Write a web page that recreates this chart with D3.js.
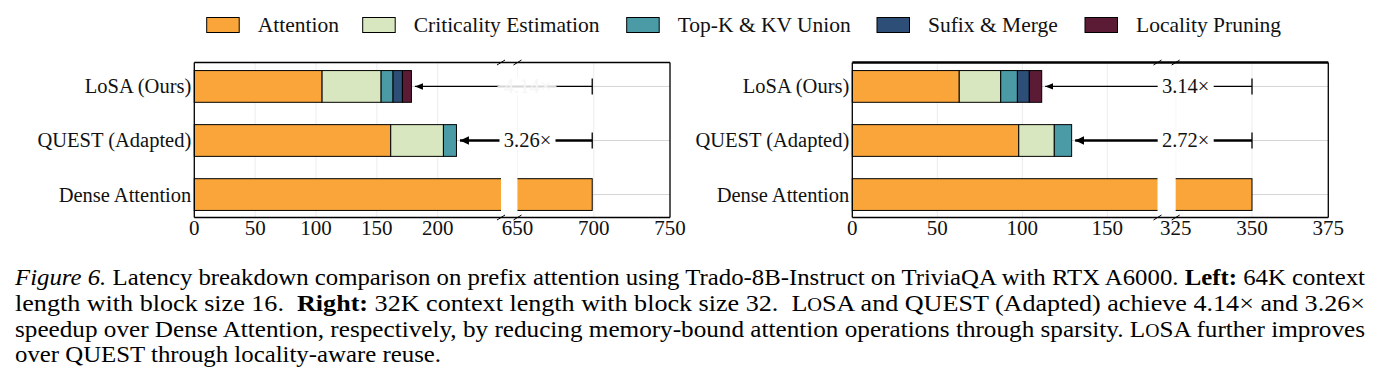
<!DOCTYPE html>
<html><head><meta charset="utf-8">
<script src="https://cdn.jsdelivr.net/npm/d3@7"></script>
<style>
html,body{margin:0;padding:0;background:#fff;}
svg{display:block;font-family:"Liberation Serif","Times New Roman",serif;}
</style></head>
<body>
<svg id="chart" width="1381" height="382"></svg>
<script>
// ---------------- data ----------------
const categories = ["LoSA (Ours)", "QUEST (Adapted)", "Dense Attention"];
const components = ["Attention", "Criticality Estimation", "Top-K & KV Union", "Sufix & Merge", "Locality Pruning"];
const colors = ["#f9a53a", "#d8e7c0", "#4b9ba7", "#2d4e77", "#5c1b35"];

// Left: 64K context, block size 16 (latency per component)
const leftLoSA  = [105.0, 48.5, 9.8, 7.7, 7.4];
const leftQUEST = [161.4, 43.3, 10.7, 0, 0];
const leftDense = [699, 0, 0, 0, 0];
// Right: 32K context, block size 32
const rightLoSA  = [62.9, 24.4, 9.8, 7.0, 7.3];
const rightQUEST = [97.9, 20.9, 10.2, 0, 0];
const rightDense = [350, 0, 0, 0, 0];

const leftTicksA = [0, 50, 100, 150, 200];
const leftTicksB = [650, 700, 750];
const rightTicksA = [0, 50, 100, 150];
const rightTicksB = [325, 350, 375];

const leftSpeedups = ["4.14×", "3.26×"];
const rightSpeedups = ["3.14×", "2.72×"];

// ---------------- drawing ----------------
const svg = d3.select("#chart");
const plotTop = 62.5, plotBottom = 217.5;

const y = d3.scaleBand().domain(categories).range([63, 218]).paddingInner(0.413).paddingOuter(0.14);

const panels = [
  {id: "L", rows: [leftLoSA, leftQUEST, leftDense], ticksA: leftTicksA, ticksB: leftTicksB,
   domA: [0, 252], rangeA: [194.3, 501], domB: [650, 750], rangeB: [517.5, 670],
   speedups: leftSpeedups, fadedFirst: true, thickTop: false},
  {id: "R", rows: [rightLoSA, rightQUEST, rightDense], ticksA: rightTicksA, ticksB: rightTicksB,
   domA: [0, 179.5], rangeA: [852.3, 1157.5], domB: [325, 375], rangeB: [1175.7, 1328.3],
   speedups: rightSpeedups, fadedFirst: false, thickTop: true}
];

const defs = svg.append("defs");
function marker(id, len, wid) {
  defs.append("marker").attr("id", id).attr("markerUnits", "userSpaceOnUse")
    .attr("viewBox", `0 0 ${len} ${wid}`).attr("refX", len).attr("refY", wid / 2)
    .attr("markerWidth", len).attr("markerHeight", wid).attr("orient", "auto")
    .append("path").attr("d", `M0,0 L${len},${wid / 2} L0,${wid} Z`).attr("fill", "#000");
}
marker("headThin", 8, 6.5);
marker("headThick", 9, 8.5);

panels.forEach(p => {
  const xA = d3.scaleLinear().domain(p.domA).range(p.rangeA);
  const xB = d3.scaleLinear().domain(p.domB).range(p.rangeB);
  const g = svg.append("g");

  defs.append("clipPath").attr("id", "clipA" + p.id).append("rect")
    .attr("x", p.rangeA[0] - 3).attr("y", 0).attr("width", p.rangeA[1] - p.rangeA[0] + 3).attr("height", 382);
  defs.append("clipPath").attr("id", "clipB" + p.id).append("rect")
    .attr("x", p.rangeB[0]).attr("y", 0).attr("width", p.rangeB[1] - p.rangeB[0] + 3).attr("height", 382);

  const segs = [
    {x: xA, ticks: p.ticksA, clip: "clipA" + p.id},
    {x: xB, ticks: p.ticksB, clip: "clipB" + p.id}
  ];

  // gridlines
  segs.forEach(s => {
    const gg = g.append("g").attr("clip-path", `url(#${s.clip})`);
    gg.selectAll("line.v").data(s.ticks).join("line")
      .attr("x1", d => s.x(d)).attr("x2", d => s.x(d)).attr("y1", plotTop).attr("y2", plotBottom)
      .attr("stroke", "#ececec").attr("stroke-width", 1);
    gg.selectAll("line.h").data(categories).join("line")
      .attr("x1", s.x.range()[0]).attr("x2", s.x.range()[1])
      .attr("y1", d => y(d) + y.bandwidth() / 2).attr("y2", d => y(d) + y.bandwidth() / 2)
      .attr("stroke", "#d4d4d4").attr("stroke-width", 1);
  });

  // bars
  segs.forEach(s => {
    const gb = g.append("g").attr("clip-path", `url(#${s.clip})`);
    p.rows.forEach((vals, ri) => {
      let acc = 0;
      vals.forEach((v, ci) => {
        if (v <= 0) return;
        const x1 = s.x(acc), x2 = s.x(acc + v);
        acc += v;
        const lo = Math.max(x1, s.x.range()[0] - 20), hi = Math.min(x2, s.x.range()[1] + 20);
        if (hi <= lo) return;
        gb.append("rect").attr("x", lo).attr("y", y(categories[ri]))
          .attr("width", hi - lo).attr("height", y.bandwidth())
          .attr("fill", colors[ci]).attr("stroke", "#000").attr("stroke-width", 1);
      });
    });
  });

  // spines
  const sp = g.append("g").attr("stroke", "#000").attr("fill", "none");
  sp.append("line").attr("x1", p.rangeA[0]).attr("x2", p.rangeB[1]).attr("y1", plotTop).attr("y2", plotTop)
    .attr("stroke-width", p.thickTop ? 2.6 : 1.3);
  sp.append("line").attr("x1", p.rangeA[0]).attr("x2", p.rangeB[1]).attr("y1", plotBottom).attr("y2", plotBottom).attr("stroke-width", 1.3);
  sp.append("line").attr("x1", p.rangeA[0]).attr("x2", p.rangeA[0]).attr("y1", plotTop).attr("y2", plotBottom).attr("stroke-width", 1.3);
  sp.append("line").attr("x1", p.rangeB[1]).attr("x2", p.rangeB[1]).attr("y1", plotTop).attr("y2", plotBottom).attr("stroke-width", 1.3);
  // break marks
  [p.rangeA[1], p.rangeB[0]].forEach(bx => {
    [plotTop, plotBottom].forEach(by => {
      sp.append("line").attr("x1", bx - 4).attr("y1", by + 2.5).attr("x2", bx + 4).attr("y2", by - 2.5)
        .attr("stroke-width", 1);
    });
  });

  // tick labels
  segs.forEach(s => {
    g.append("g").selectAll("text").data(s.ticks).join("text")
      .attr("x", d => s.x(d)).attr("y", 235).attr("text-anchor", "middle")
      .attr("font-size", 21).attr("fill", "#111").text(d => d);
  });

  // category labels
  g.append("g").selectAll("text").data(categories).join("text")
    .attr("x", p.rangeA[0] - 3).attr("y", d => y(d) + y.bandwidth() / 2)
    .attr("dy", "0.34em").attr("text-anchor", "end").attr("font-size", 20.5).attr("fill", "#111")
    .text(d => d);

  // speedup arrows
  const dense = d3.sum(p.rows[2]);
  const capX = xB(dense);
  const labelX = xB(p.domB[0]) + 10;
  [0, 1].forEach(ri => {
    const total = d3.sum(p.rows[ri]);
    const cy = y(categories[ri]) + y.bandwidth() / 2;
    const thick = ri === 1;
    const tip = xA(total) + 3.5;
    g.append("line").attr("x1", capX).attr("x2", tip).attr("y1", cy).attr("y2", cy)
      .attr("stroke", "#000").attr("stroke-width", thick ? 2.4 : 1.2)
      .attr("marker-end", `url(#${thick ? "headThick" : "headThin"})`);
    g.append("line").attr("x1", capX).attr("x2", capX).attr("y1", cy - 8).attr("y2", cy + 8)
      .attr("stroke", "#000").attr("stroke-width", 1.3);
    g.append("rect").attr("x", labelX - 28).attr("y", cy - 9).attr("width", 56).attr("height", 18).attr("fill", "#fff");
    const faded = p.fadedFirst && ri === 0;
    if (faded) {
      g.append("line").attr("x1", labelX - 30).attr("x2", labelX + 29).attr("y1", cy).attr("y2", cy)
        .attr("stroke", "#d6d6d6").attr("stroke-width", 2);
    }
    g.append("text").attr("x", labelX).attr("y", cy).attr("dy", "0.34em").attr("text-anchor", "middle")
      .attr("font-size", 20.5).attr("fill", faded ? "#f6f6f6" : "#111").text(p.speedups[ri]);
  });
});

// legend
const legendBoxX = [206.7, 362.7, 626.7, 877, 1085];
const lg = svg.append("g");
components.forEach((c, i) => {
  lg.append("rect").attr("x", legendBoxX[i]).attr("y", 17.5).attr("width", 32.5).attr("height", 15)
    .attr("fill", colors[i]).attr("stroke", "#000").attr("stroke-width", 1);
  lg.append("text").attr("x", legendBoxX[i] + 51).attr("y", 32.4).attr("font-size", 21.5).attr("fill", "#111").text(c);
});

// caption
const cap = svg.append("g").attr("fill", "#000").attr("font-size", 23);
const lines = [
  [{t: "Figure 6.", s: "italic"}, {t: " Latency breakdown comparison on prefix attention using Trado-8B-Instruct on TriviaQA with RTX A6000. "}, {t: "Left:", w: "bold"}, {t: " 64K context"}],
  [{t: "length with block size 16.  "}, {t: "Right:", w: "bold"}, {t: " 32K context length with block size 32.  L"}, {t: "O", small: true}, {t: "SA and QUEST (Adapted) achieve 4.14× and 3.26×"}],
  [{t: "speedup over Dense Attention, respectively, by reducing memory-bound attention operations through sparsity. L"}, {t: "O", small: true}, {t: "SA further improves"}],
  [{t: "over QUEST through locality-aware reuse."}]
];
const baselines = [284.5, 310.5, 336.5, 362.3];
const lengths = [1350, 1350, 1350, 426];
lines.forEach((parts, i) => {
  const t = cap.append("text").attr("x", 15).attr("y", baselines[i]).attr("xml:space", "preserve")
    .attr("textLength", lengths[i]).attr("lengthAdjust", "spacingAndGlyphs");
  parts.forEach(pt => {
    const ts = t.append("tspan").text(pt.t);
    if (pt.s) ts.attr("font-style", pt.s);
    if (pt.w) ts.attr("font-weight", pt.w);
    if (pt.small) ts.attr("font-size", 18);
  });
});
</script>
</body></html>
